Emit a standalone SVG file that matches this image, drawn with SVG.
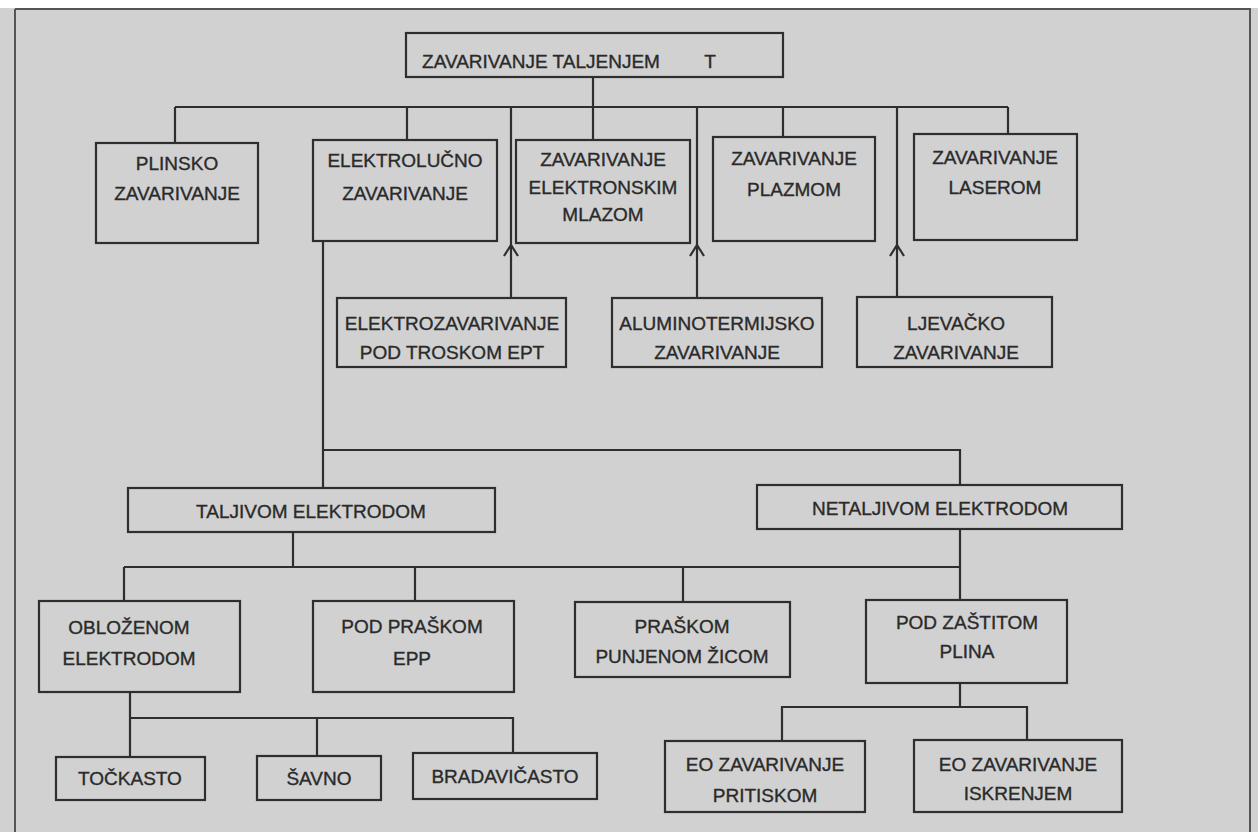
<svg xmlns="http://www.w3.org/2000/svg" width="1258" height="832" viewBox="0 0 1258 832">
<defs>
<style>
.b{fill:none;stroke:#2e2e2e;stroke-width:2.2}
.c{fill:none;stroke:#2e2e2e;stroke-width:2.2}
text{font-family:"Liberation Sans",Arial,sans-serif;font-size:19px;fill:#2a2a2a;stroke:#2a2a2a;stroke-width:0.35;text-anchor:middle}
</style>
<marker id="ah" viewBox="-13 -9 15 18" markerWidth="15" markerHeight="18" refX="0" refY="0" orient="auto" markerUnits="userSpaceOnUse">
<path d="M-11,-7 L0,0 L-11,7" fill="none" stroke="#2e2e2e" stroke-width="2.2"/>
</marker>
</defs>
<rect width="1258" height="832" fill="#d1d1d1"/>
<rect width="1258" height="8" fill="#ffffff"/>
<path d="M15,9 H1250 V832 M15,9 V832" fill="none" stroke="#555" stroke-width="2"/>

<g id="connectors">
<path class="c" d="M593,77 V140"/>
<path class="c" d="M175,107 H1008"/>
<path class="c" d="M175,107 V143"/>
<path class="c" d="M407,107 V140"/>
<path class="c" d="M783,107 V137"/>
<path class="c" d="M1008,107 V134"/>
<path class="c" d="M511,298 V245 V107" marker-mid="url(#ah)"/>
<path class="c" d="M697,298 V245 V107" marker-mid="url(#ah)"/>
<path class="c" d="M897,297 V245 V107" marker-mid="url(#ah)"/>
<path class="c" d="M323,241 V488"/>
<path class="c" d="M323,450 H960 V485"/>
<path class="c" d="M293,532 V567"/>
<path class="c" d="M124,567 H960"/>
<path class="c" d="M960,529 V600"/>
<path class="c" d="M124,567 V601"/>
<path class="c" d="M415,567 V601"/>
<path class="c" d="M683,567 V602"/>
<path class="c" d="M130,692 V757"/>
<path class="c" d="M130,718 H513 V753"/>
<path class="c" d="M317,718 V756"/>
<path class="c" d="M960,683 V707"/>
<path class="c" d="M782,741 V707 H1027 V740"/>
</g>

<g id="n-taljenjem"><rect class="b" x="406" y="33" width="377" height="44"/><text x="541" y="68">ZAVARIVANJE TALJENJEM</text><text x="710" y="68">T</text></g>
<g id="n-plinsko"><rect class="b" x="96" y="143" width="162" height="100"/><text x="177" y="170">PLINSKO</text><text x="177" y="200">ZAVARIVANJE</text></g>
<g id="n-elektrolucno"><rect class="b" x="313" y="140" width="184" height="101"/><text x="405" y="167">ELEKTROLUČNO</text><text x="405" y="200">ZAVARIVANJE</text></g>
<g id="n-mlazom"><rect class="b" x="516" y="140" width="174" height="103"/><text x="603" y="166">ZAVARIVANJE</text><text x="603" y="194">ELEKTRONSKIM</text><text x="603" y="221">MLAZOM</text></g>
<g id="n-plazmom"><rect class="b" x="713" y="137" width="162" height="104"/><text x="794" y="165">ZAVARIVANJE</text><text x="794" y="196">PLAZMOM</text></g>
<g id="n-laserom"><rect class="b" x="914" y="134" width="163" height="106"/><text x="995" y="164">ZAVARIVANJE</text><text x="995" y="194">LASEROM</text></g>
<g id="n-ept"><rect class="b" x="337" y="298" width="229" height="69"/><text x="452" y="330">ELEKTROZAVARIVANJE</text><text x="452" y="359">POD TROSKOM EPT</text></g>
<g id="n-alumino"><rect class="b" x="612" y="298" width="210" height="69"/><text x="717" y="330">ALUMINOTERMIJSKO</text><text x="717" y="359">ZAVARIVANJE</text></g>
<g id="n-ljevacko"><rect class="b" x="857" y="297" width="195" height="70"/><text x="956" y="330">LJEVAČKO</text><text x="956" y="359">ZAVARIVANJE</text></g>
<g id="n-taljivom"><rect class="b" x="128" y="488" width="367" height="44"/><text x="311" y="518">TALJIVOM ELEKTRODOM</text></g>
<g id="n-netaljivom"><rect class="b" x="757" y="485" width="365" height="44"/><text x="940" y="515">NETALJIVOM ELEKTRODOM</text></g>
<g id="n-oblozenom"><rect class="b" x="39" y="601" width="201" height="91"/><text x="129" y="634">OBLOŽENOM</text><text x="129" y="665">ELEKTRODOM</text></g>
<g id="n-podpraskom"><rect class="b" x="313" y="601" width="201" height="91"/><text x="412" y="633">POD PRAŠKOM</text><text x="412" y="665">EPP</text></g>
<g id="n-praskom"><rect class="b" x="575" y="602" width="215" height="75"/><text x="682" y="633">PRAŠKOM</text><text x="682" y="663">PUNJENOM ŽICOM</text></g>
<g id="n-zastitom"><rect class="b" x="866" y="600" width="201" height="83"/><text x="967" y="629">POD ZAŠTITOM</text><text x="967" y="658">PLINA</text></g>
<g id="n-tockasto"><rect class="b" x="56" y="757" width="149" height="43"/><text x="130" y="785">TOČKASTO</text></g>
<g id="n-savno"><rect class="b" x="257" y="756" width="124" height="44"/><text x="319" y="785">ŠAVNO</text></g>
<g id="n-bradavicasto"><rect class="b" x="413" y="753" width="184" height="46"/><text x="505" y="783">BRADAVIČASTO</text></g>
<g id="n-eo-pritiskom"><rect class="b" x="665" y="741" width="200" height="71"/><text x="765" y="771">EO ZAVARIVANJE</text><text x="765" y="802">PRITISKOM</text></g>
<g id="n-eo-iskrenjem"><rect class="b" x="914" y="740" width="208" height="72"/><text x="1018" y="771">EO ZAVARIVANJE</text><text x="1018" y="800">ISKRENJEM</text></g>
</svg>
